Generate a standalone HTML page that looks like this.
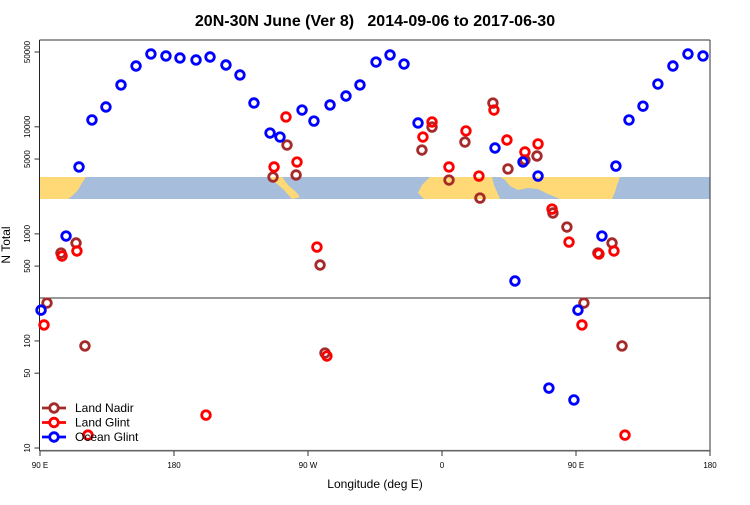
<!DOCTYPE html>
<html><head><meta charset="utf-8"><style>
body{margin:0;background:#fff;}
svg text{font-family:"Liberation Sans",Arial,sans-serif;}
</style></head><body>
<svg id="chart" width="750" height="500" viewBox="0 0 750 500" xmlns="http://www.w3.org/2000/svg">
<rect width="750" height="500" fill="#fff"/>
<text x="375" y="26" text-anchor="middle" font-size="16" font-weight="bold" style="white-space:pre" xml:space="preserve">20N-30N June (Ver 8)   2014-09-06 to 2017-06-30</text>
<g>
<rect x="39.5" y="177" width="670.5" height="22" fill="#a6bddb"/>
<polygon fill="#fed976" points="39.5,177 86,177 82,183 78,190 72,196 68,199 39.5,199"/>
<polygon fill="#fed976" points="270,177 282,177 288,185 296,192 300,197 292,199 284,190 276,183"/>
<polygon fill="#fed976" points="430,177 492,177 494,185 497,192 500,199 424,199 418,193 422,185"/>
<polygon fill="#fed976" points="500,177 620,177 617,185 615,192 612,199 560,199 548,194 538,189 528,188 518,190 510,186 505,180"/>
</g>
<g id="axes">
<line x1="39.5" y1="40" x2="710" y2="40" stroke="#333" stroke-width="1"/>
<line x1="710" y1="40" x2="710" y2="451" stroke="#333" stroke-width="1"/>
<line x1="39.5" y1="40" x2="39.5" y2="451" stroke="#222" stroke-width="1"/>
<line x1="39.5" y1="298" x2="710" y2="298" stroke="#333" stroke-width="1"/>
<line x1="39.5" y1="450.7" x2="710" y2="450.7" stroke="#666" stroke-width="1.6"/>
</g>
<g id="yticks"></g>
<g id="xticks"></g>
<text x="375" y="488" text-anchor="middle" font-size="12">Longitude (deg E)</text>
<text transform="translate(10,245) rotate(-90)" text-anchor="middle" font-size="12">N Total</text>
<g id="points"></g>
<g id="legend"></g>
</svg>
<script>
const yTickValues=[50000,10000,5000,1000,500,100,50,10];
const xTickLons=[90,180,270,360,450,540];
const xTickLabels=["90 E","180","90 W","0","90 E","180"];
const seriesNames=["Land Nadir","Land Glint","Ocean Glint"];
const seriesColors=["#a52a2a","#ff0000","#0000ff"];
const nadirLon=[94.7,104.1,114.2,120.2,246.5,255.9,262.0,278.1,281.4,346.5,353.3,364.7,375.4,385.5,394.2,404.3,415.7,423.8,434.5,443.9,455.3,464.7,474.2,480.9];
const nadirN=[226,662,822,89.8,3397,6760,3550,512,77.1,6070,9950,3185,7210,2160,16670,4040,4900,5340,1567,1159,226,662,822,89.8];
const glintLon=[92.7,104.8,114.8,122.2,201.5,247.2,255.2,262.6,276.0,282.7,347.2,353.3,364.7,376.1,384.8,394.9,403.6,415.7,424.5,433.9,445.3,454.0,465.4,475.5,482.9];
const glintN=[141,621,692,13.2,20.3,4217,12360,4690,753,72.3,8030,11090,4217,9160,3470,14350,7530,5820,6920,1706,839,141,649,692,13.2];
const oceanLon=[90.7,107.5,116.2,124.9,134.3,144.4,154.5,164.5,174.6,184.0,194.8,204.2,214.9,224.3,233.7,244.5,251.2,266.0,274.0,284.8,295.5,304.9,315.7,325.1,334.5,343.9,395.6,409.0,414.4,424.5,431.8,448.6,451.3,467.4,476.8,485.6,495.0,505.0,515.1,525.2,535.3];
const oceanN=[194,955,4217,11590,15320,24600,37000,47900,45900,43960,42100,44900,37800,30500,16700,8750,8030,14350,11320,16000,19400,24600,40300,46900,38600,10860,6340,363,4690,3470,36.3,28.1,194,955,4300,11590,15600,25100,37000,47900,45900];

const NS="http://www.w3.org/2000/svg";
function xs(lon){return 40+(lon-90)*670/450;}
function ys(v){return 448-(Math.log10(v)-1)*107.06;}
function mk(tag,attrs,parent){const e=document.createElementNS(NS,tag);for(const k in attrs)e.setAttribute(k,attrs[k]);parent.appendChild(e);return e;}

const yt=document.getElementById('yticks');
yTickValues.forEach(v=>{
  const y=ys(v);
  const l=mk('line',{x1:34.5,y1:y,x2:39.5,y2:y,stroke:'#333'},yt);
  
  
  const t=mk('text',{transform:`translate(30,${y}) rotate(-90)`,'text-anchor':'middle','font-size':8},yt);
  
  
  t.textContent=String(v);
});
const xt=document.getElementById('xticks');
xTickLons.forEach((lon,i)=>{
  const x=xs(lon);
  const l=mk('line',{x1:x,y1:451,x2:x,y2:456,stroke:'#333'},xt);
  
  
  const t=mk('text',{x:x,y:468,'text-anchor':'middle','font-size':8},xt);
  
  
  t.textContent=xTickLabels[i];
});
const pg=document.getElementById('points');
const series=[[nadirLon,nadirN],[glintLon,glintN],[oceanLon,oceanN]];
series.forEach((s,si)=>{
  s[0].forEach((lon,i)=>{
    const c=mk('circle',{cx:xs(lon),cy:ys(s[1][i]),r:4.3,fill:'none',stroke:seriesColors[si],'stroke-width':2.8},pg);
    
    
  });
});
const lg=document.getElementById('legend');
seriesNames.forEach((n,i)=>{
  const y=408+i*14.5;
  const ln=mk('line',{x1:42,y1:y,x2:66,y2:y,stroke:seriesColors[i],'stroke-width':2.8},lg);
  
  
  const c=mk('circle',{cx:54,cy:y,r:4.3,fill:'#fff',stroke:seriesColors[i],'stroke-width':2.8},lg);
  
  
  const t=mk('text',{x:75,y:y+4,'font-size':12},lg);
  
  
  t.textContent=n;
});
</script>
</body></html>
